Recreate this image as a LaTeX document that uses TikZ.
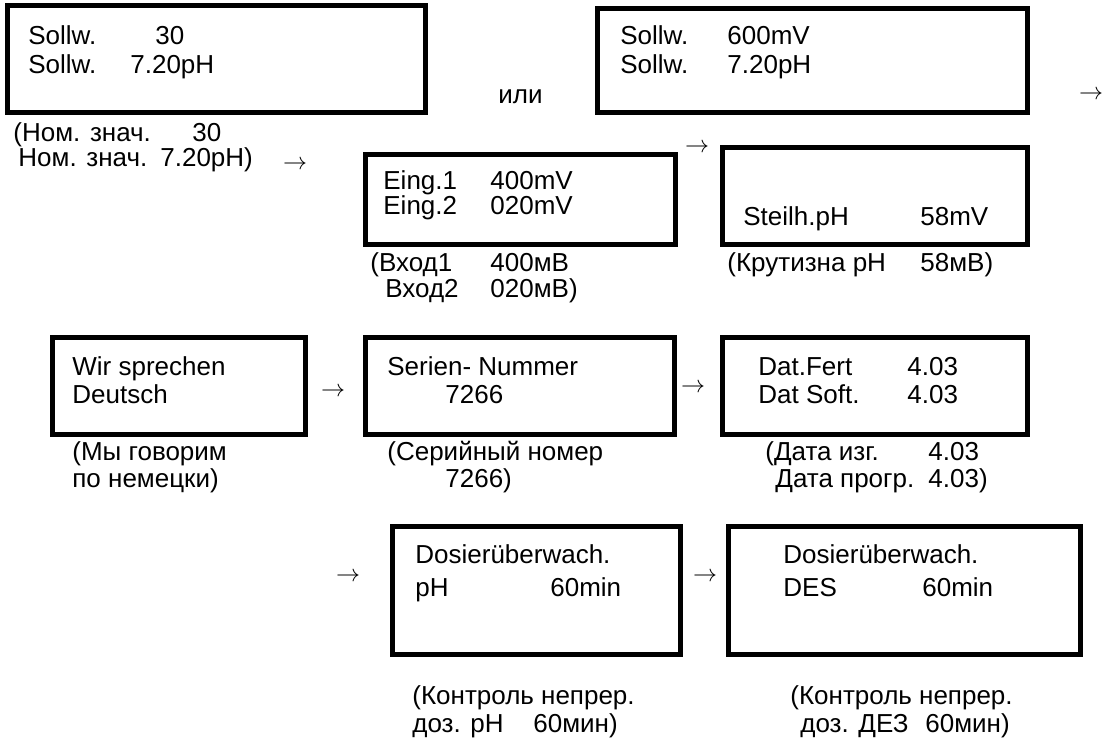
\documentclass[tikz,border=0pt]{standalone}
\usepackage{fontspec}
\setmainfont{Liberation Sans}
\begin{document}
\begin{tikzpicture}[x=0.5pt,y=-0.5pt,
    lcd/.style={draw,line width=2.5pt,inner sep=0pt},
    txt/.style={anchor=base west,inner sep=0pt,font=\fontsize{13}{16}\selectfont},
    arr/.style={inner sep=0pt,font=\fontsize{12}{14}\selectfont}]
\useasboundingbox (0,0) rectangle (1104,744);

% row 1
\node[lcd,minimum width=209pt,minimum height=53.5pt] (sollA) at (216.5,59) {};
\node[txt] (sollAa) at (28,45) {Sollw.};
\node[txt] (sollAb) at (155,45) {30};
\node[txt] (sollAc) at (28,73) {Sollw.};
\node[txt] (sollAd) at (130,73) {7.20pH};
\node[txt] (ili) at (498,103) {или};
\node[lcd,minimum width=215pt,minimum height=52pt] (sollB) at (812.5,60.5) {};
\node[txt] (sollBa) at (620,45) {Sollw.};
\node[txt] (sollBb) at (727,45) {600mV};
\node[txt] (sollBc) at (620,73) {Sollw.};
\node[txt] (sollBd) at (727,73) {7.20pH};
\node[arr] (arA) at (1091,95) {$\rightarrow$};

% row 2
\node[txt] (nomA) at (13,141) {(Ном. знач.};
\node[txt] (nomB) at (192,141) {30};
\node[txt] (nomC) at (18,166) {Ном. знач.};
\node[txt] (nomD) at (160,166) {7.20pH)};
\node[arr] (arB) at (295,165) {$\rightarrow$};
\node[lcd,minimum width=155pt,minimum height=45pt] (eing) at (520.5,199.5) {};
\node[txt] (eingA) at (383,189) {Eing.1};
\node[txt] (eingB) at (490,189) {400mV};
\node[txt] (eingC) at (383,214) {Eing.2};
\node[txt] (eingD) at (490,214) {020mV};
\node[arr] (arC) at (697,148) {$\rightarrow$};
\node[lcd,minimum width=152.5pt,minimum height=48.5pt] (steil) at (875,196) {};
\node[txt] (steilA) at (743,225) {Steilh.pH};
\node[txt] (steilB) at (920,225) {58mV};
\node[txt] (vhodA) at (370,271) {(Вход1};
\node[txt] (vhodB) at (490,271) {400мВ};
\node[txt] (vhodC) at (385,297) {Вход2};
\node[txt] (vhodD) at (490,297) {020мВ)};
\node[txt] (krut) at (727,271) {(Крутизна pH};
\node[txt] (krutB) at (920,271) {58мВ)};

% row 3
\node[lcd,minimum width=126.5pt,minimum height=48.5pt] (wir) at (179,386) {};
\node[txt] (wirA) at (72,375) {Wir sprechen};
\node[txt] (wirB) at (72,403) {Deutsch};
\node[arr] (arD) at (333,392) {$\rightarrow$};
\node[lcd,minimum width=154.5pt,minimum height=48.5pt] (ser) at (520,386) {};
\node[txt] (serA) at (387,375) {Serien- Nummer};
\node[txt] (serB) at (445,403) {7266};
\node[arr] (arE) at (693,388) {$\rightarrow$};
\node[lcd,minimum width=152.5pt,minimum height=48.5pt] (dat) at (875,386) {};
\node[txt] (datA) at (758,375) {Dat.Fert};
\node[txt] (datB) at (907,375) {4.03};
\node[txt] (datC) at (758,403) {Dat Soft.};
\node[txt] (datD) at (907,403) {4.03};
\node[txt] (myA) at (72,460) {(Мы говорим};
\node[txt] (myB) at (72,487) {по немецки)};
\node[txt] (serC) at (387,460) {(Серийный номер};
\node[txt] (serD) at (445,487) {7266)};
\node[txt] (dataA) at (765,460) {(Дата изг.};
\node[txt] (dataB) at (928,460) {4.03};
\node[txt] (dataC) at (775,487) {Дата прогр.};
\node[txt] (dataD) at (928,487) {4.03)};

% row 4
\node[arr] (arF) at (348,577) {$\rightarrow$};
\node[lcd,minimum width=144pt,minimum height=64pt] (dosA) at (536.5,590.5) {};
\node[txt] (dosAa) at (415,563) {Dosierüberwach.};
\node[txt] (dosAb) at (415,596) {pH};
\node[txt] (dosAc) at (550,596) {60min};
\node[arr] (arG) at (705,577) {$\rightarrow$};
\node[lcd,minimum width=176pt,minimum height=64pt] (dosB) at (904.5,590.5) {};
\node[txt] (dosBa) at (783,563) {Dosierüberwach.};
\node[txt] (dosBb) at (783,596) {DES};
\node[txt] (dosBc) at (922,596) {60min};
\node[txt] (kontA) at (412,704) {(Контроль непрер.};
\node[txt] (kontB) at (412,732) {доз. pH};
\node[txt] (kontC) at (533,732) {60мин)};
\node[txt] (kontD) at (790,704) {(Контроль непрер.};
\node[txt] (kontE) at (800,732) {доз. ДЕЗ};
\node[txt] (kontF) at (925,732) {60мин)};
\end{tikzpicture}
\end{document}
